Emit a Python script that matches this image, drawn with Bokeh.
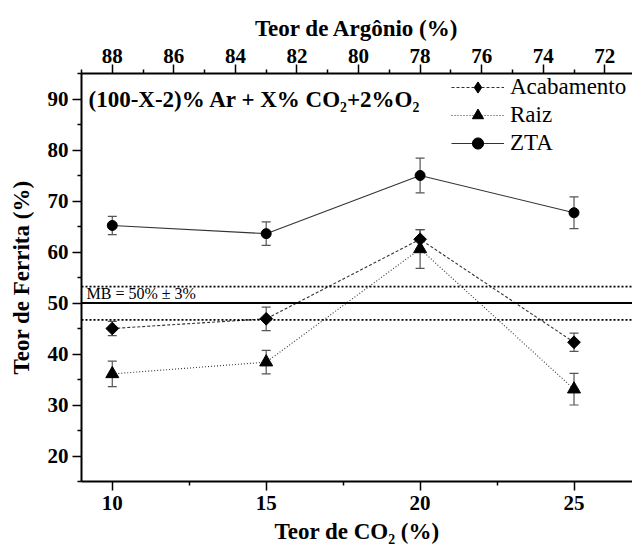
from bokeh.plotting import figure
from bokeh.models import (ColumnDataSource, Whisker, Range1d, LinearAxis, FixedTicker,
                          Span, Label, Legend, LegendItem, TeeHead)
from bokeh.embed import file_html
from bokeh.resources import INLINE
import math

# ---- data ----
co2 = [10, 15, 20, 25]
acabamento = [45.0, 46.9, 62.5, 42.3]
acabamento_err = [1.4, 2.3, 1.9, 1.8]
raiz = [36.1, 38.4, 60.6, 33.1]
raiz_err = [2.5, 2.3, 3.8, 3.1]
zta = [65.2, 63.6, 75.0, 67.7]
zta_err = [1.8, 2.3, 3.4, 3.1]
mb_value = 50
mb_upper = 53.2
mb_lower = 46.7
x_ticks = [10, 15, 20, 25]
x_minor = [12.5, 17.5, 22.5]
y_ticks = [20, 30, 40, 50, 60, 70, 80, 90]
y_minor = [15, 25, 35, 45, 55, 65, 75, 85, 95]
ar_ticks = [88, 86, 84, 82, 80, 78, 76, 74, 72]
ar_minor = [89, 87, 85, 83, 81, 79, 77, 75, 73]
ar_total = 98  # Ar = 98 - CO2

FONT = "Liberation Serif"
X0, X1 = 9, 26.9

p = figure(width=632, height=556, x_range=Range1d(X0, X1), y_range=Range1d(15, 95),
           output_backend="svg", toolbar_location=None,
           min_border_left=81, min_border_right=0, min_border_top=73, min_border_bottom=75,
           x_axis_location=None, y_axis_location=None)
p.outline_line_color = None
p.xgrid.visible = False
p.ygrid.visible = False
p.background_fill_color = "white"
p.border_fill_color = "white"

def style_axis(ax, size="21px", label_size="23px"):
    ax.axis_line_width = 2
    ax.axis_line_color = "black"
    ax.major_tick_line_width = 1.5
    ax.minor_tick_line_width = 1.5
    ax.major_tick_out = 9
    ax.major_tick_in = 0
    ax.minor_tick_out = 4
    ax.minor_tick_in = 0
    ax.major_label_text_font = FONT
    ax.major_label_text_font_style = "bold"
    ax.major_label_text_font_size = size
    ax.major_label_text_color = "black"
    ax.axis_label_text_font = FONT
    ax.axis_label_text_font_style = "bold"
    ax.axis_label_text_font_size = label_size
    ax.axis_label_text_color = "black"

xb = LinearAxis(ticker=FixedTicker(ticks=x_ticks, minor_ticks=x_minor),
                axis_label="Teor de CO₂ (%)")
style_axis(xb)
xb.major_label_standoff = 5
xb.axis_label_standoff = 6
p.add_layout(xb, "below")

yl = LinearAxis(ticker=FixedTicker(ticks=y_ticks, minor_ticks=y_minor),
                axis_label="Teor de Ferrita (%)")
style_axis(yl)
yl.major_label_standoff = 4
yl.axis_label_standoff = 11
p.add_layout(yl, "left")

p.extra_x_ranges = {"ar": Range1d(ar_total - X0, ar_total - X1)}
xt = LinearAxis(x_range_name="ar", ticker=FixedTicker(ticks=ar_ticks, minor_ticks=ar_minor),
                axis_label="Teor de Argônio (%)")
style_axis(xt)
xt.major_label_standoff = 2
xt.axis_label_standoff = 5
p.add_layout(xt, "above")

# MB reference lines
p.add_layout(Span(location=mb_value, dimension="width", line_color="black", line_width=1.8))
p.add_layout(Span(location=mb_upper, dimension="width", line_color="black", line_width=1.8,
                  line_dash="2 2"))
p.add_layout(Span(location=mb_lower, dimension="width", line_color="black", line_width=1.8,
                  line_dash="2 2"))
p.add_layout(Label(x=X0, y=mb_value, x_offset=5, y_offset=1, text="MB = 50% ± 3%",
                   text_font=FONT, text_font_size="16px", text_color="black"))

p.add_layout(Label(x=X0, y=90, x_offset=7, text="(100-X-2)% Ar + X% CO₂+2%O₂",
                   text_font=FONT, text_font_style="bold", text_font_size="23px",
                   text_baseline="middle", text_color="black"))

series = [
    ("Acabamento", acabamento, acabamento_err, "square", 9, math.pi / 4, "3 2", "diamond"),
    ("Raiz", raiz, raiz_err, "triangle", 13, 0, "1 2", None),
    ("ZTA", zta, zta_err, "circle", 10, 0, "solid", None),
]
items = []
for name, vals, errs, marker, size, ang, dash, legend_marker in series:
    src = ColumnDataSource(dict(x=co2, y=vals,
                                lo=[v - e for v, e in zip(vals, errs)],
                                hi=[v + e for v, e in zip(vals, errs)]))
    w = Whisker(source=src, base="x", upper="hi", lower="lo", line_color="#555555",
                line_width=1.2,
                upper_head=TeeHead(size=9, line_color="#555555", line_width=1.2),
                lower_head=TeeHead(size=9, line_color="#555555", line_width=1.2))
    p.add_layout(w)
    lr = p.line("x", "y", source=src, line_color="#333333", line_width=1.1, line_dash=dash)
    sr = p.scatter("x", "y", source=src, marker=marker, size=size, angle=ang,
                   fill_color="black", line_color="black")
    if legend_marker is not None:
        # legend-only glyph (legend markers are always drawn unrotated)
        sr_leg = p.scatter("x", "y", source=src, marker=legend_marker, size=size,
                           fill_color="black", line_color="black", visible=False)
        items.append(LegendItem(label=name, renderers=[lr, sr_leg]))
    else:
        items.append(LegendItem(label=name, renderers=[lr, sr]))

legend = Legend(items=items, location=(370, 324), glyph_width=53, glyph_height=28,
                label_text_font=FONT, label_text_font_size="23px", label_text_color="black",
                label_standoff=6, spacing=0, padding=0, margin=0,
                border_line_color=None, background_fill_alpha=0,
                inactive_fill_alpha=0)
p.add_layout(legend)

open("out.html", "w").write(file_html(p, INLINE))
